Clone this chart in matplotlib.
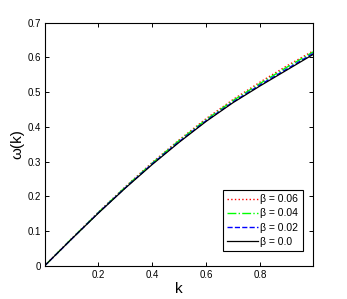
import numpy as np
import matplotlib.pyplot as plt

plt.rcParams['font.family'] = ['Liberation Sans', 'DejaVu Sans']

# dispersion curves
k = [0.0, 0.1, 0.2, 0.3, 0.4, 0.5, 0.6, 0.7, 0.8, 0.9, 1.0]
w_00 = [0.0, 0.077, 0.152, 0.224, 0.292, 0.356, 0.416, 0.470, 0.518, 0.564, 0.610]
w_02 = [0.0, 0.077, 0.153, 0.225, 0.294, 0.358, 0.418, 0.472, 0.521, 0.567, 0.613]
w_04 = [0.0, 0.078, 0.154, 0.227, 0.296, 0.361, 0.421, 0.476, 0.525, 0.572, 0.617]
w_06 = [0.0, 0.078, 0.155, 0.228, 0.298, 0.363, 0.424, 0.479, 0.529, 0.576, 0.620]
labels = ['β = 0.06', 'β = 0.04', 'β = 0.02', 'β = 0.0']

fig = plt.figure(figsize=(3.47, 2.99), dpi=100)
ax = fig.add_axes([0.1297, 0.1104, 0.7733, 0.8136])

ax.plot(k, w_06, color='red', linestyle=':', lw=1, label=labels[0])
ax.plot(k, w_04, color=(0, 1, 0), linestyle='-.', lw=1, label=labels[1])
ax.plot(k, w_02, color='blue', linestyle='--', lw=1, label=labels[2])
ax.plot(k, w_00, color='black', linestyle='-', lw=0.9, label=labels[3])

ax.set_xlim(0.002, 0.998)
ax.set_ylim(0, 0.7)
ax.set_xticks([0.2, 0.4, 0.6, 0.8])
ax.set_yticks(np.arange(0, 0.71, 0.1))
ax.set_yticklabels(['0', '0.1', '0.2', '0.3', '0.4', '0.5', '0.6', '0.7'])
ax.tick_params(direction='in', top=True, right=True, labelsize=7, length=3, width=0.7, pad=3)
for s in ax.spines.values():
    s.set_linewidth(0.8)

ax.set_xlabel('k', fontsize=11, labelpad=1)
ax.set_ylabel('ω(k)', fontsize=11, labelpad=2)

leg = ax.legend(loc='lower right', bbox_to_anchor=(0.96, 0.062), borderaxespad=0,
                fontsize=7.5, handlelength=3.0, handletextpad=0.2, labelspacing=0.4,
                fancybox=False, framealpha=1, edgecolor='black', borderpad=0.4)
leg.get_frame().set_linewidth(0.8)

fig.savefig('out.png', dpi=100)
